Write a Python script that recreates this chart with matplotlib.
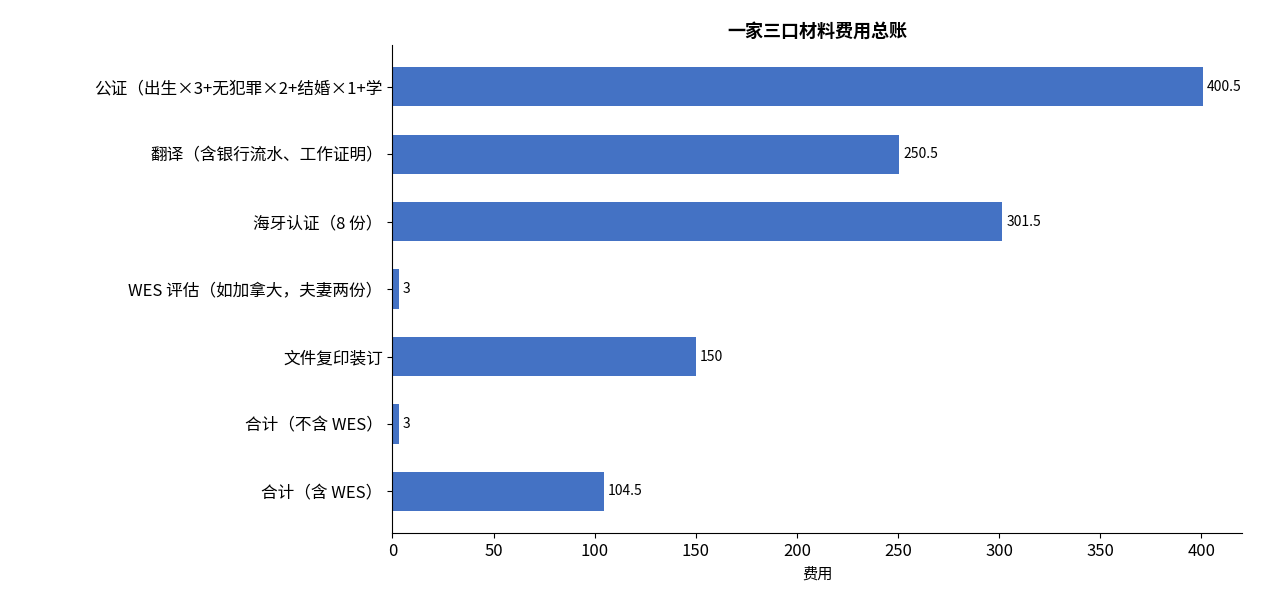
import matplotlib.pyplot as plt

plt.rcParams['font.family'] = ['Noto Sans CJK SC', 'DejaVu Sans']

categorias = ['公证（出生×3+无犯罪×2+结婚×1+学',
              '翻译（含银行流水、工作证明）',
              '海牙认证（8 份）',
              'WES 评估（如加拿大，夫妻两份）',
              '文件复印装订',
              '合计（不含 WES）',
              '合计（含 WES）']
costes = [400.5, 250.5, 301.5, 3, 150, 3, 104.5]
etiquetas = ['400.5', '250.5', '301.5', '3', '150', '3', '104.5']

fig = plt.figure(figsize=(12.66, 6.15), dpi=100)
ax = fig.add_axes([0.310, 0.133, 0.671, 0.794])
ys = list(range(len(categorias)))
ax.barh(ys, costes, height=0.58, color='#4472C4')
for y, v, t in zip(ys, costes, etiquetas):
    ax.text(v + 2, y, t, va='center', ha='left', fontsize=10)
ax.set_yticks(ys)
ax.set_yticklabels(categorias, fontsize=12)
ax.invert_yaxis()
ax.set_xlim(0, 420)
ax.tick_params(axis='x', labelsize=12)
ax.set_xlabel('费用', fontsize=11)
ax.set_title('一家三口材料费用总账', fontsize=13, fontweight='bold')
ax.spines['top'].set_visible(False)
ax.spines['right'].set_visible(False)
fig.savefig('out.png')
